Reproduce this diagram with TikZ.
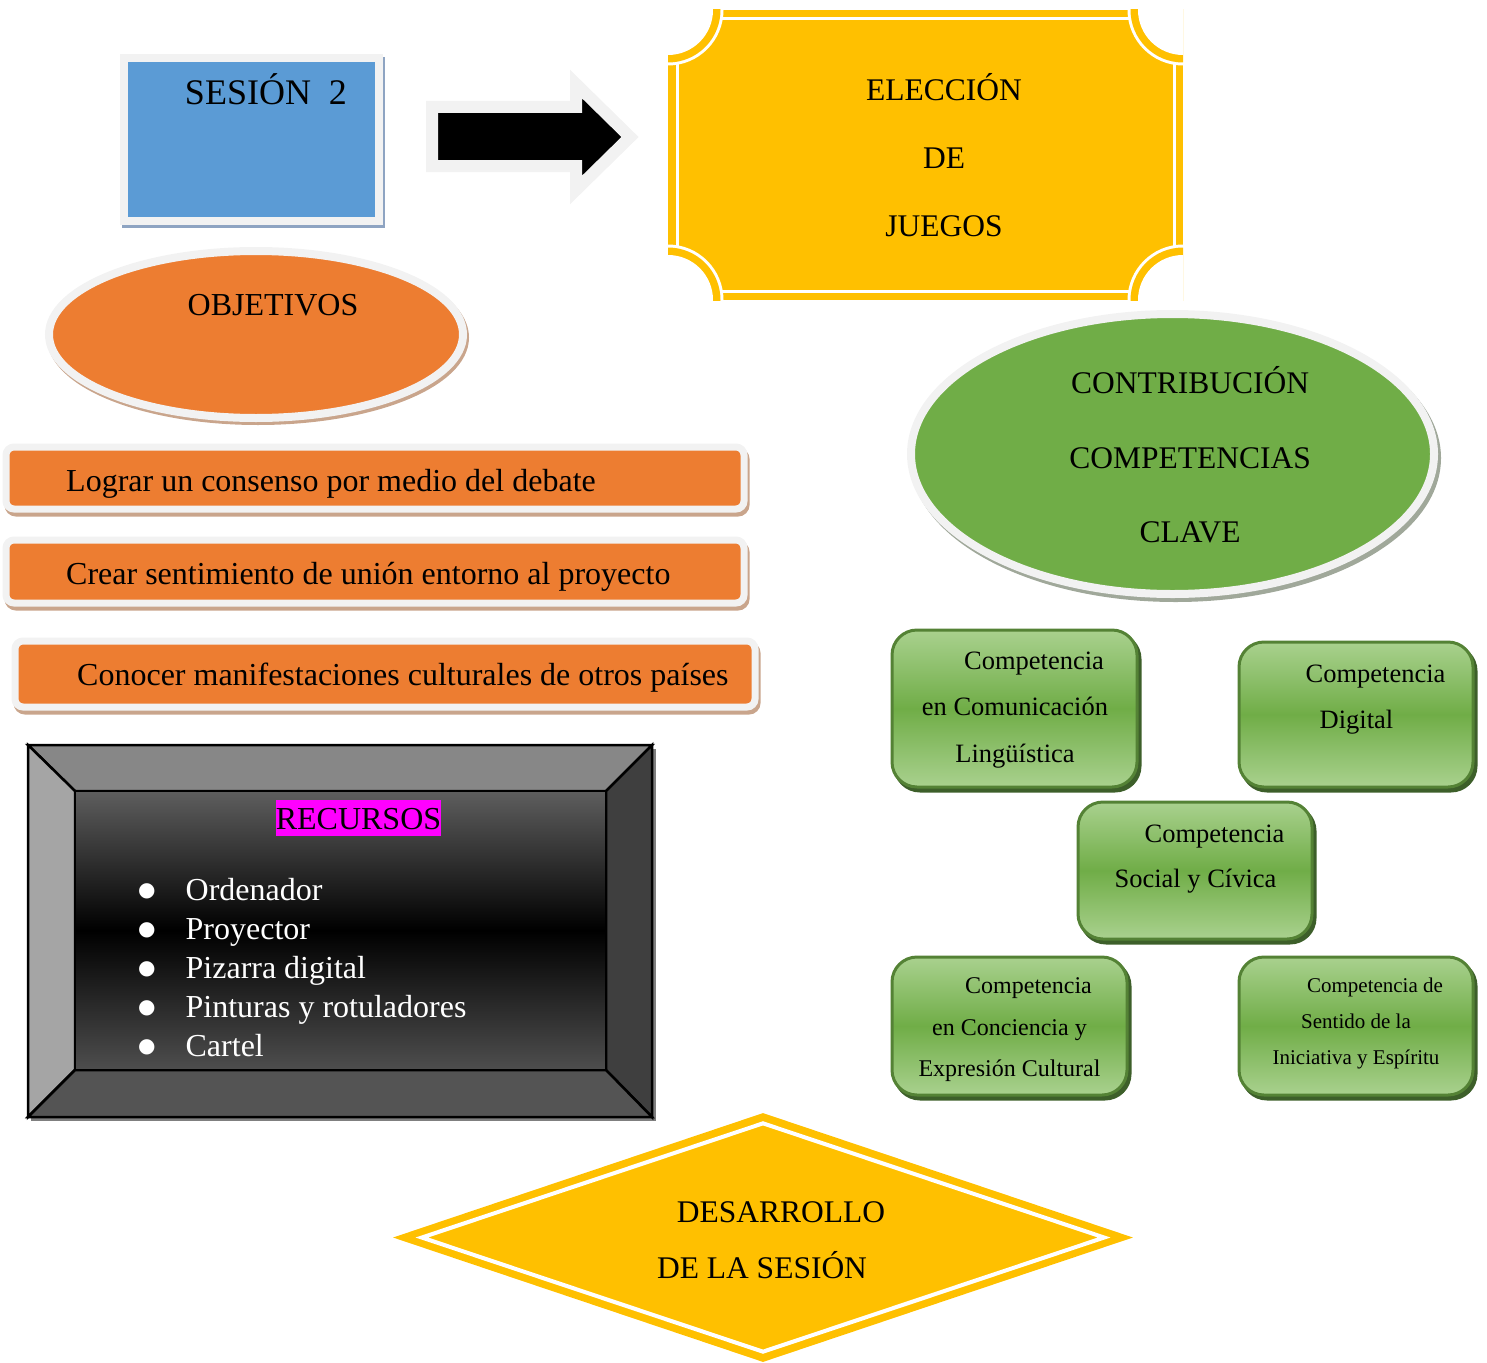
\documentclass[tikz,border=0pt]{standalone}
\usepackage{fontspec}
\setmainfont{Liberation Serif}
\newfontfamily\simbolos{DejaVu Sans}
\usetikzlibrary{shapes.geometric}

\definecolor{azul}{HTML}{5B9BD5}
\definecolor{naranja}{HTML}{ED7D31}
\definecolor{amarillo}{HTML}{FFC000}
\definecolor{verde}{HTML}{70AD47}
\definecolor{verdeclaro}{HTML}{A9D18E}
\definecolor{verdeborde}{HTML}{548235}
\definecolor{verdesombra}{HTML}{3D5F2A}
\definecolor{marco}{HTML}{F2F2F2}
\definecolor{sombraazul}{HTML}{8EA4C2}
\definecolor{sombranaranja}{HTML}{C9A58C}
\definecolor{sombragris}{HTML}{A0A89A}
\definecolor{sombraflecha}{HTML}{C0C0C0}
\definecolor{biselsup}{HTML}{878787}
\definecolor{biselizq}{HTML}{A5A5A5}
\definecolor{biselder}{HTML}{3F3F3F}
\definecolor{biselinf}{HTML}{545454}
\definecolor{caraclara}{HTML}{5E5E5E}
\definecolor{caraoscura}{HTML}{4E4E4E}
\definecolor{sombrabisel}{HTML}{7F7F7F}
\definecolor{rosa}{HTML}{FF00FF}

\newcommand{\vineta}{\raisebox{4pt}{\simbolos\fontsize{20}{39}\selectfont ●}\hspace*{30pt}}

\begin{document}
\begin{tikzpicture}[x = 1pt, y = -1pt,
                        sesionbox/.style = {rectangle, fill = azul, draw = marco, line width = 8pt, inner sep = 0pt,
                                            preaction = {fill = sombraazul, draw = sombraazul, transform canvas = {shift = {(2pt, -3pt)}}}},
                        objbar/.style = {rectangle, rounded corners = 8pt, fill = naranja, draw = marco, line width = 7pt, inner sep = 0pt,
                                         preaction = {fill = sombranaranja, draw = sombranaranja, transform canvas = {shift = {(2pt, -4pt)}}}},
                        ovalo/.style = {ellipse, draw = marco, line width = 8pt, inner sep = 0pt},
                        compbox/.style = {rectangle, rounded corners = 25pt, draw = verdeborde, line width = 3pt, inner sep = 0pt,
                                          top color = verdeclaro, bottom color = verdeclaro, middle color = verde,
                                          preaction = {fill = verdesombra, draw = verdesombra, transform canvas = {shift = {(3pt, -4pt)}}}},
                        bisel/.style = {draw = black, line width = 2.5pt, line join = miter},
                        titulo/.style = {font = \fontsize{31.5}{68}\selectfont, align = center, inner sep = 0pt},
                        texto/.style = {font = \fontsize{32}{39}\selectfont, inner sep = 0pt},
                        comptext/.style = {align = center, inner sep = 0pt}]
      \useasboundingbox (0, 0) rectangle (1487, 1362);

      \node [sesionbox, minimum width = 255, minimum height = 162.5] (sesion) at (251.5, 139.75){};
      \node [texto, font = \fontsize{36}{44}\selectfont, anchor = base] (sesiontxt) at (266, 105){SESIÓN\ \ 2};

      \draw [fill = black, draw = marco, line width = 12pt, line join = miter,
             preaction = {draw = sombraflecha, transform canvas = {shift = {(3pt, -4pt)}}}]
            (432, 107) -- (576, 107) -- (576, 84) -- (630, 137) -- (576, 190) -- (576, 166) -- (432, 166) -- cycle;

      \begin{scope}
        \clip (668, 10) rectangle (1183, 300);
        \fill [amarillo] (668, 10) rectangle (1183, 300);
        \draw [white, line width = 3pt] (677, 19) rectangle (1174, 291);
        \foreach \cx/\cy in {668/10, 1183/10, 1183/300, 668/300}{
          \fill [white] (\cx, \cy) circle [radius = 55.5];
          \fill [amarillo] (\cx, \cy) circle [radius = 52.5];
          \fill [white] (\cx, \cy) circle [radius = 45];
        }
      \end{scope}
      \node [titulo] (eleccion) at (944, 155){ELECCIÓN\\DE\\JUEGOS};

      \node [ovalo, fill = naranja, minimum width = 414, minimum height = 167,
             preaction = {fill = sombranaranja, draw = sombranaranja, transform canvas = {shift = {(2pt, -3pt)}}}] (objetivos) at (256, 334.5){};
      \node [texto, anchor = base] (objetivostxt) at (273, 315.5){OBJETIVOS};

      \node [objbar, minimum width = 738, minimum height = 62] (obj1) at (375, 478){};
      \node [objbar, minimum width = 738, minimum height = 63] (obj2) at (375, 571.5){};
      \node [objbar, minimum width = 740, minimum height = 66] (obj3) at (385, 674){};
      \node [texto, anchor = base west] (obj1txt) at (66, 491.5){Lograr un consenso por medio del debate};
      \node [texto, anchor = base west] (obj2txt) at (66, 584.5){Crear sentimiento de unión entorno al proyecto};
      \node [texto, anchor = base west] (obj3txt) at (77, 685.5){Conocer manifestaciones culturales de otros países};

      \node [ovalo, fill = verde, minimum width = 523, minimum height = 280,
             preaction = {fill = sombragris, draw = sombragris, transform canvas = {shift = {(3pt, -4pt)}}}] (competencias) at (1172.5, 454){};
      \node [titulo, font = \fontsize{31.5}{74.5}\selectfont] (competenciastxt) at (1190, 455){CONTRIBUCIÓN\\COMPETENCIAS\\CLAVE};

      \node [compbox, minimum width = 245, minimum height = 157] (compA) at (1014.5, 708.5){};
      \node [compbox, minimum width = 234, minimum height = 145] (compB) at (1356, 714.5){};
      \node [compbox, minimum width = 234, minimum height = 137] (compC) at (1195, 870.5){};
      \node [compbox, minimum width = 235, minimum height = 138] (compD) at (1009.5, 1026){};
      \node [compbox, minimum width = 234, minimum height = 138] (compE) at (1356, 1026){};
      \node [comptext, font = \fontsize{26.5}{46.5}\selectfont] (compAtxt) at (1015, 710){\hspace*{38pt}Competencia\\en Comunicación\\Lingüística};
      \node [comptext, font = \fontsize{26.5}{46}\selectfont] (compBtxt) at (1356.5, 699.5){\hspace*{38pt}Competencia\\Digital};
      \node [comptext, font = \fontsize{26.5}{45}\selectfont] (compCtxt) at (1195.5, 859){\hspace*{38pt}Competencia\\Social y Cívica};
      \node [comptext, font = \fontsize{24}{41.5}\selectfont] (compDtxt) at (1009.5, 1030){\hspace*{38pt}Competencia\\en Conciencia y\\Expresión Cultural};
      \node [comptext, font = \fontsize{21}{36}\selectfont] (compEtxt) at (1356, 1023){\hspace*{38pt}Competencia de\\Sentido de la\\Iniciativa y Espíritu};

      \fill [sombrabisel] (31, 749) rectangle (656, 1121);
      \filldraw [bisel, fill = biselsup] (28, 745) -- (652, 745) -- (606, 791) -- (75, 791) -- cycle;
      \filldraw [bisel, fill = biselizq] (28, 745) -- (75, 791) -- (75, 1070) -- (28, 1117) -- cycle;
      \filldraw [bisel, fill = biselder] (652, 745) -- (652, 1117) -- (606, 1070) -- (606, 791) -- cycle;
      \filldraw [bisel, fill = biselinf] (28, 1117) -- (75, 1070) -- (606, 1070) -- (652, 1117) -- cycle;
      \node [bisel, rectangle, top color = caraclara, bottom color = caraoscura, middle color = black,
             minimum width = 531, minimum height = 279, inner sep = 0pt] (recursos) at (340.5, 930.5){};
      \draw [bisel] (28, 745) rectangle (652, 1117);
      \node [texto, fill = rosa, text height = 29pt, text depth = 7pt, anchor = base] (recursostxt) at (358.5, 829){RECURSOS};
      \node [texto, text = white, align = left, anchor = west] (lista) at (138, 967.5)
            {\vineta Ordenador\\\vineta Proyector\\\vineta Pizarra digital\\\vineta Pinturas y rotuladores\\\vineta Cartel};

      \node [diamond, fill = amarillo, minimum width = 740, minimum height = 249, inner sep = 0pt] (desarrollo) at (763, 1237.5){};
      \node [diamond, draw = white, line width = 4pt, minimum width = 684, minimum height = 230, inner sep = 0pt] (desarrollomarco) at (763, 1237.5){};
      \node [titulo, font = \fontsize{31.5}{56}\selectfont] (desarrollotxt) at (762, 1240){\hspace*{38pt}DESARROLLO\\DE LA SESIÓN};
    \end{tikzpicture}
\end{document}
